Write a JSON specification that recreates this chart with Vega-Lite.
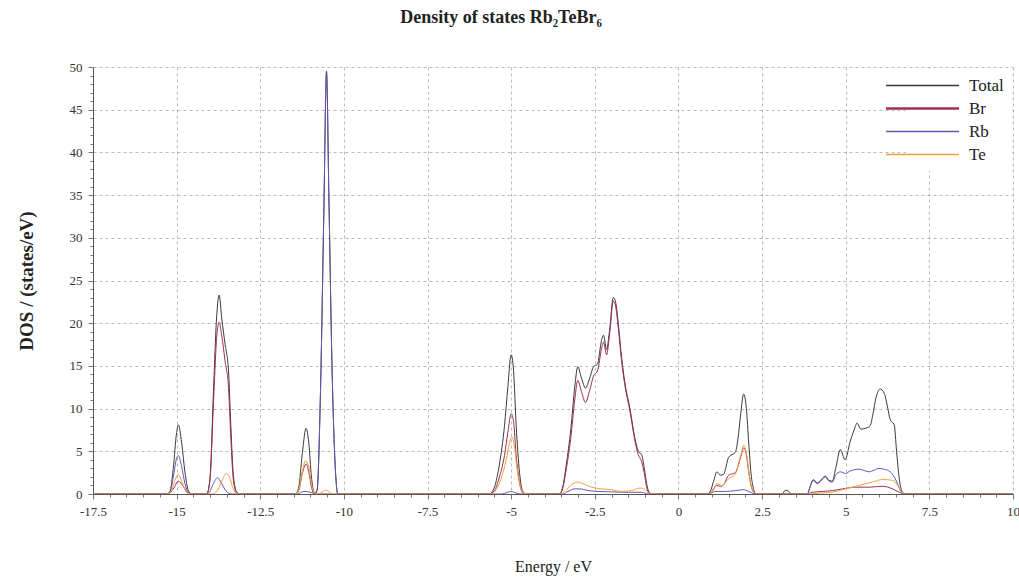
{
  "$schema": "https://vega.github.io/schema/vega-lite/v6.json",
  "autosize": "none",
  "width": 920,
  "height": 427,
  "padding": {"left": 93, "top": 67, "right": 6, "bottom": 84},
  "background": "white",
  "config": {"view": {"stroke": null}, "font": "Liberation Serif"},
  "title": {
    "text": "Density of states Rb₂TeBr₆",
    "font": "Liberation Serif",
    "fontSize": 18,
    "fontWeight": "bold",
    "color": "#222",
    "anchor": "middle",
    "frame": "group",
    "dx": -52,
    "offset": 34
  },
  "data": {
    "values": [
      {"E": -17.5, "s": "Total", "v": 0}, {"E": -15.3, "s": "Total", "v": 0}, {"E": -15.2, "s": "Total", "v": 0.3}, {"E": -15.1, "s": "Total", "v": 3.0}, {"E": -15.0, "s": "Total", "v": 7.2}, {"E": -14.95, "s": "Total", "v": 8.1}, {"E": -14.85, "s": "Total", "v": 6.0}, {"E": -14.75, "s": "Total", "v": 2.5}, {"E": -14.65, "s": "Total", "v": 0.4}, {"E": -14.55, "s": "Total", "v": 0},
      {"E": -14.1, "s": "Total", "v": 0}, {"E": -14.0, "s": "Total", "v": 2.0}, {"E": -13.9, "s": "Total", "v": 12.0}, {"E": -13.8, "s": "Total", "v": 21.0}, {"E": -13.73, "s": "Total", "v": 23.3}, {"E": -13.65, "s": "Total", "v": 20.5}, {"E": -13.55, "s": "Total", "v": 17.5}, {"E": -13.45, "s": "Total", "v": 14.5}, {"E": -13.38, "s": "Total", "v": 8.0}, {"E": -13.3, "s": "Total", "v": 2.0}, {"E": -13.2, "s": "Total", "v": 0.2}, {"E": -13.1, "s": "Total", "v": 0},
      {"E": -11.45, "s": "Total", "v": 0}, {"E": -11.35, "s": "Total", "v": 0.8}, {"E": -11.25, "s": "Total", "v": 4.5}, {"E": -11.13, "s": "Total", "v": 7.7}, {"E": -11.05, "s": "Total", "v": 6.0}, {"E": -10.97, "s": "Total", "v": 2.0}, {"E": -10.9, "s": "Total", "v": 0.3}, {"E": -10.85, "s": "Total", "v": 0.1}, {"E": -10.8, "s": "Total", "v": 0.5}, {"E": -10.7, "s": "Total", "v": 12}, {"E": -10.6, "s": "Total", "v": 33}, {"E": -10.52, "s": "Total", "v": 49.5}, {"E": -10.45, "s": "Total", "v": 35}, {"E": -10.35, "s": "Total", "v": 14}, {"E": -10.25, "s": "Total", "v": 2.5}, {"E": -10.18, "s": "Total", "v": 0},
      {"E": -5.65, "s": "Total", "v": 0}, {"E": -5.5, "s": "Total", "v": 0.8}, {"E": -5.35, "s": "Total", "v": 3.5}, {"E": -5.2, "s": "Total", "v": 8.0}, {"E": -5.1, "s": "Total", "v": 12.5}, {"E": -5.0, "s": "Total", "v": 16.3}, {"E": -4.93, "s": "Total", "v": 14.5}, {"E": -4.85, "s": "Total", "v": 8.0}, {"E": -4.75, "s": "Total", "v": 2.5}, {"E": -4.65, "s": "Total", "v": 0.3}, {"E": -4.55, "s": "Total", "v": 0},
      {"E": -3.55, "s": "Total", "v": 0}, {"E": -3.45, "s": "Total", "v": 1.0}, {"E": -3.35, "s": "Total", "v": 3.5}, {"E": -3.22, "s": "Total", "v": 7.5}, {"E": -3.1, "s": "Total", "v": 12.5}, {"E": -3.01, "s": "Total", "v": 14.9}, {"E": -2.9, "s": "Total", "v": 13.6}, {"E": -2.78, "s": "Total", "v": 12.4}, {"E": -2.65, "s": "Total", "v": 13.6}, {"E": -2.54, "s": "Total", "v": 14.9}, {"E": -2.42, "s": "Total", "v": 15.2}, {"E": -2.3, "s": "Total", "v": 18.0}, {"E": -2.24, "s": "Total", "v": 18.6}, {"E": -2.15, "s": "Total", "v": 16.9}, {"E": -2.05, "s": "Total", "v": 19.5}, {"E": -1.95, "s": "Total", "v": 23.0}, {"E": -1.88, "s": "Total", "v": 22.5}, {"E": -1.8, "s": "Total", "v": 20.0}, {"E": -1.7, "s": "Total", "v": 16.0}, {"E": -1.6, "s": "Total", "v": 13.0}, {"E": -1.45, "s": "Total", "v": 10.0}, {"E": -1.3, "s": "Total", "v": 6.5}, {"E": -1.2, "s": "Total", "v": 5.0}, {"E": -1.1, "s": "Total", "v": 4.6}, {"E": -1.02, "s": "Total", "v": 3.0}, {"E": -0.95, "s": "Total", "v": 1.2}, {"E": -0.88, "s": "Total", "v": 0.2}, {"E": -0.8, "s": "Total", "v": 0},
      {"E": 0.85, "s": "Total", "v": 0}, {"E": 0.95, "s": "Total", "v": 0.3}, {"E": 1.05, "s": "Total", "v": 1.5}, {"E": 1.15, "s": "Total", "v": 2.6}, {"E": 1.25, "s": "Total", "v": 2.2}, {"E": 1.35, "s": "Total", "v": 2.3}, {"E": 1.5, "s": "Total", "v": 4.3}, {"E": 1.7, "s": "Total", "v": 4.9}, {"E": 1.78, "s": "Total", "v": 6.5}, {"E": 1.85, "s": "Total", "v": 9.0}, {"E": 1.95, "s": "Total", "v": 11.7}, {"E": 2.03, "s": "Total", "v": 10.0}, {"E": 2.1, "s": "Total", "v": 6.0}, {"E": 2.17, "s": "Total", "v": 2.4}, {"E": 2.25, "s": "Total", "v": 0.5}, {"E": 2.32, "s": "Total", "v": 0},
      {"E": 3.1, "s": "Total", "v": 0}, {"E": 3.2, "s": "Total", "v": 0.45}, {"E": 3.3, "s": "Total", "v": 0.3}, {"E": 3.38, "s": "Total", "v": 0},
      {"E": 3.85, "s": "Total", "v": 0}, {"E": 3.95, "s": "Total", "v": 1.0}, {"E": 4.03, "s": "Total", "v": 1.7}, {"E": 4.15, "s": "Total", "v": 1.3}, {"E": 4.25, "s": "Total", "v": 1.6}, {"E": 4.39, "s": "Total", "v": 2.1}, {"E": 4.5, "s": "Total", "v": 1.6}, {"E": 4.6, "s": "Total", "v": 1.5}, {"E": 4.7, "s": "Total", "v": 3.0}, {"E": 4.84, "s": "Total", "v": 5.2}, {"E": 4.98, "s": "Total", "v": 4.0}, {"E": 5.13, "s": "Total", "v": 6.1}, {"E": 5.25, "s": "Total", "v": 7.5}, {"E": 5.34, "s": "Total", "v": 8.3}, {"E": 5.45, "s": "Total", "v": 7.6}, {"E": 5.6, "s": "Total", "v": 7.7}, {"E": 5.73, "s": "Total", "v": 8.0}, {"E": 5.82, "s": "Total", "v": 9.5}, {"E": 5.9, "s": "Total", "v": 11.2}, {"E": 6.03, "s": "Total", "v": 12.3}, {"E": 6.15, "s": "Total", "v": 11.8}, {"E": 6.25, "s": "Total", "v": 10.2}, {"E": 6.33, "s": "Total", "v": 8.7}, {"E": 6.45, "s": "Total", "v": 8.1}, {"E": 6.52, "s": "Total", "v": 5.0}, {"E": 6.6, "s": "Total", "v": 1.8}, {"E": 6.7, "s": "Total", "v": 0.2}, {"E": 6.8, "s": "Total", "v": 0}, {"E": 10, "s": "Total", "v": 0},

      {"E": -17.5, "s": "Br", "v": 0}, {"E": -15.25, "s": "Br", "v": 0}, {"E": -15.1, "s": "Br", "v": 0.6}, {"E": -14.95, "s": "Br", "v": 1.5}, {"E": -14.8, "s": "Br", "v": 0.9}, {"E": -14.65, "s": "Br", "v": 0.1}, {"E": -14.55, "s": "Br", "v": 0},
      {"E": -14.1, "s": "Br", "v": 0}, {"E": -14.0, "s": "Br", "v": 1.8}, {"E": -13.9, "s": "Br", "v": 10.5}, {"E": -13.8, "s": "Br", "v": 18.5}, {"E": -13.73, "s": "Br", "v": 20.1}, {"E": -13.65, "s": "Br", "v": 18.5}, {"E": -13.55, "s": "Br", "v": 15.5}, {"E": -13.45, "s": "Br", "v": 12.5}, {"E": -13.38, "s": "Br", "v": 6.5}, {"E": -13.3, "s": "Br", "v": 1.5}, {"E": -13.2, "s": "Br", "v": 0.1}, {"E": -13.1, "s": "Br", "v": 0},
      {"E": -11.45, "s": "Br", "v": 0}, {"E": -11.35, "s": "Br", "v": 0.4}, {"E": -11.25, "s": "Br", "v": 2.3}, {"E": -11.13, "s": "Br", "v": 3.5}, {"E": -11.05, "s": "Br", "v": 2.6}, {"E": -10.97, "s": "Br", "v": 0.8}, {"E": -10.88, "s": "Br", "v": 0},
      {"E": -5.65, "s": "Br", "v": 0}, {"E": -5.5, "s": "Br", "v": 0.4}, {"E": -5.35, "s": "Br", "v": 2.0}, {"E": -5.2, "s": "Br", "v": 4.5}, {"E": -5.1, "s": "Br", "v": 7.2}, {"E": -5.0, "s": "Br", "v": 9.4}, {"E": -4.93, "s": "Br", "v": 8.5}, {"E": -4.85, "s": "Br", "v": 4.5}, {"E": -4.75, "s": "Br", "v": 1.3}, {"E": -4.65, "s": "Br", "v": 0.1}, {"E": -4.55, "s": "Br", "v": 0},
      {"E": -3.55, "s": "Br", "v": 0}, {"E": -3.45, "s": "Br", "v": 0.8}, {"E": -3.35, "s": "Br", "v": 3.0}, {"E": -3.22, "s": "Br", "v": 6.5}, {"E": -3.1, "s": "Br", "v": 11.0}, {"E": -3.01, "s": "Br", "v": 13.3}, {"E": -2.9, "s": "Br", "v": 12.0}, {"E": -2.78, "s": "Br", "v": 10.7}, {"E": -2.65, "s": "Br", "v": 12.2}, {"E": -2.54, "s": "Br", "v": 13.8}, {"E": -2.42, "s": "Br", "v": 14.4}, {"E": -2.3, "s": "Br", "v": 17.0}, {"E": -2.24, "s": "Br", "v": 17.8}, {"E": -2.15, "s": "Br", "v": 16.3}, {"E": -2.05, "s": "Br", "v": 19.0}, {"E": -1.95, "s": "Br", "v": 22.6}, {"E": -1.88, "s": "Br", "v": 22.0}, {"E": -1.8, "s": "Br", "v": 19.5}, {"E": -1.7, "s": "Br", "v": 15.6}, {"E": -1.6, "s": "Br", "v": 12.7}, {"E": -1.45, "s": "Br", "v": 9.7}, {"E": -1.3, "s": "Br", "v": 6.2}, {"E": -1.2, "s": "Br", "v": 4.6}, {"E": -1.1, "s": "Br", "v": 3.8}, {"E": -1.02, "s": "Br", "v": 2.4}, {"E": -0.95, "s": "Br", "v": 0.8}, {"E": -0.88, "s": "Br", "v": 0.1}, {"E": -0.8, "s": "Br", "v": 0},
      {"E": 0.85, "s": "Br", "v": 0}, {"E": 0.95, "s": "Br", "v": 0.1}, {"E": 1.05, "s": "Br", "v": 0.6}, {"E": 1.15, "s": "Br", "v": 1.0}, {"E": 1.25, "s": "Br", "v": 0.9}, {"E": 1.35, "s": "Br", "v": 1.1}, {"E": 1.5, "s": "Br", "v": 2.2}, {"E": 1.7, "s": "Br", "v": 2.5}, {"E": 1.8, "s": "Br", "v": 3.5}, {"E": 1.88, "s": "Br", "v": 4.6}, {"E": 1.95, "s": "Br", "v": 5.4}, {"E": 2.03, "s": "Br", "v": 4.6}, {"E": 2.1, "s": "Br", "v": 2.6}, {"E": 2.17, "s": "Br", "v": 1.0}, {"E": 2.25, "s": "Br", "v": 0.2}, {"E": 2.32, "s": "Br", "v": 0},
      {"E": 3.85, "s": "Br", "v": 0}, {"E": 4.0, "s": "Br", "v": 0.2}, {"E": 4.3, "s": "Br", "v": 0.3}, {"E": 4.6, "s": "Br", "v": 0.4}, {"E": 4.9, "s": "Br", "v": 0.6}, {"E": 5.3, "s": "Br", "v": 0.8}, {"E": 5.7, "s": "Br", "v": 0.8}, {"E": 6.1, "s": "Br", "v": 0.9}, {"E": 6.4, "s": "Br", "v": 0.6}, {"E": 6.6, "s": "Br", "v": 0.2}, {"E": 6.75, "s": "Br", "v": 0}, {"E": 10, "s": "Br", "v": 0},

      {"E": -17.5, "s": "Rb", "v": 0}, {"E": -15.3, "s": "Rb", "v": 0}, {"E": -15.2, "s": "Rb", "v": 0.2}, {"E": -15.1, "s": "Rb", "v": 2.0}, {"E": -15.0, "s": "Rb", "v": 4.2}, {"E": -14.95, "s": "Rb", "v": 4.5}, {"E": -14.85, "s": "Rb", "v": 3.2}, {"E": -14.75, "s": "Rb", "v": 1.2}, {"E": -14.65, "s": "Rb", "v": 0.2}, {"E": -14.55, "s": "Rb", "v": 0},
      {"E": -14.05, "s": "Rb", "v": 0}, {"E": -13.95, "s": "Rb", "v": 0.8}, {"E": -13.85, "s": "Rb", "v": 1.6}, {"E": -13.78, "s": "Rb", "v": 1.9}, {"E": -13.68, "s": "Rb", "v": 1.4}, {"E": -13.55, "s": "Rb", "v": 0.5}, {"E": -13.45, "s": "Rb", "v": 0.1}, {"E": -13.35, "s": "Rb", "v": 0},
      {"E": -11.4, "s": "Rb", "v": 0}, {"E": -11.2, "s": "Rb", "v": 0.3}, {"E": -11.05, "s": "Rb", "v": 0.25}, {"E": -10.9, "s": "Rb", "v": 0.1}, {"E": -10.85, "s": "Rb", "v": 0.1}, {"E": -10.8, "s": "Rb", "v": 0.5}, {"E": -10.7, "s": "Rb", "v": 12}, {"E": -10.6, "s": "Rb", "v": 33}, {"E": -10.52, "s": "Rb", "v": 49.3}, {"E": -10.45, "s": "Rb", "v": 35}, {"E": -10.35, "s": "Rb", "v": 14}, {"E": -10.25, "s": "Rb", "v": 2.5}, {"E": -10.18, "s": "Rb", "v": 0},
      {"E": -5.3, "s": "Rb", "v": 0}, {"E": -5.1, "s": "Rb", "v": 0.2}, {"E": -5.0, "s": "Rb", "v": 0.3}, {"E": -4.85, "s": "Rb", "v": 0.1}, {"E": -4.7, "s": "Rb", "v": 0},
      {"E": -3.45, "s": "Rb", "v": 0}, {"E": -3.3, "s": "Rb", "v": 0.3}, {"E": -3.1, "s": "Rb", "v": 0.6}, {"E": -2.95, "s": "Rb", "v": 0.6}, {"E": -2.7, "s": "Rb", "v": 0.4}, {"E": -2.4, "s": "Rb", "v": 0.3}, {"E": -2.0, "s": "Rb", "v": 0.25}, {"E": -1.5, "s": "Rb", "v": 0.2}, {"E": -1.1, "s": "Rb", "v": 0.2}, {"E": -0.9, "s": "Rb", "v": 0},
      {"E": 0.9, "s": "Rb", "v": 0}, {"E": 1.1, "s": "Rb", "v": 0.3}, {"E": 1.4, "s": "Rb", "v": 0.3}, {"E": 1.7, "s": "Rb", "v": 0.4}, {"E": 1.95, "s": "Rb", "v": 0.5}, {"E": 2.15, "s": "Rb", "v": 0.2}, {"E": 2.3, "s": "Rb", "v": 0},
      {"E": 3.85, "s": "Rb", "v": 0}, {"E": 3.95, "s": "Rb", "v": 1.0}, {"E": 4.03, "s": "Rb", "v": 1.6}, {"E": 4.15, "s": "Rb", "v": 1.2}, {"E": 4.25, "s": "Rb", "v": 1.5}, {"E": 4.39, "s": "Rb", "v": 2.0}, {"E": 4.5, "s": "Rb", "v": 1.5}, {"E": 4.6, "s": "Rb", "v": 1.4}, {"E": 4.7, "s": "Rb", "v": 2.2}, {"E": 4.84, "s": "Rb", "v": 2.6}, {"E": 5.0, "s": "Rb", "v": 2.4}, {"E": 5.13, "s": "Rb", "v": 2.7}, {"E": 5.4, "s": "Rb", "v": 2.9}, {"E": 5.7, "s": "Rb", "v": 2.6}, {"E": 5.85, "s": "Rb", "v": 2.8}, {"E": 6.0, "s": "Rb", "v": 3.0}, {"E": 6.15, "s": "Rb", "v": 2.9}, {"E": 6.33, "s": "Rb", "v": 2.6}, {"E": 6.45, "s": "Rb", "v": 2.0}, {"E": 6.55, "s": "Rb", "v": 1.2}, {"E": 6.65, "s": "Rb", "v": 0.3}, {"E": 6.75, "s": "Rb", "v": 0}, {"E": 10, "s": "Rb", "v": 0},

      {"E": -17.5, "s": "Te", "v": 0}, {"E": -15.3, "s": "Te", "v": 0}, {"E": -15.15, "s": "Te", "v": 0.4}, {"E": -15.05, "s": "Te", "v": 1.6}, {"E": -14.95, "s": "Te", "v": 2.3}, {"E": -14.85, "s": "Te", "v": 1.5}, {"E": -14.75, "s": "Te", "v": 0.5}, {"E": -14.65, "s": "Te", "v": 0.05}, {"E": -14.55, "s": "Te", "v": 0},
      {"E": -13.95, "s": "Te", "v": 0}, {"E": -13.8, "s": "Te", "v": 0.3}, {"E": -13.65, "s": "Te", "v": 1.5}, {"E": -13.52, "s": "Te", "v": 2.4}, {"E": -13.42, "s": "Te", "v": 2.0}, {"E": -13.33, "s": "Te", "v": 0.8}, {"E": -13.22, "s": "Te", "v": 0.1}, {"E": -13.15, "s": "Te", "v": 0},
      {"E": -11.45, "s": "Te", "v": 0}, {"E": -11.35, "s": "Te", "v": 0.5}, {"E": -11.25, "s": "Te", "v": 2.5}, {"E": -11.15, "s": "Te", "v": 3.9}, {"E": -11.05, "s": "Te", "v": 3.2}, {"E": -10.97, "s": "Te", "v": 1.2}, {"E": -10.88, "s": "Te", "v": 0.1}, {"E": -10.8, "s": "Te", "v": 0}, {"E": -10.65, "s": "Te", "v": 0.2}, {"E": -10.55, "s": "Te", "v": 0.45}, {"E": -10.45, "s": "Te", "v": 0.3}, {"E": -10.35, "s": "Te", "v": 0},
      {"E": -5.6, "s": "Te", "v": 0}, {"E": -5.45, "s": "Te", "v": 0.5}, {"E": -5.3, "s": "Te", "v": 1.8}, {"E": -5.15, "s": "Te", "v": 4.0}, {"E": -5.05, "s": "Te", "v": 6.0}, {"E": -4.98, "s": "Te", "v": 6.7}, {"E": -4.9, "s": "Te", "v": 5.5}, {"E": -4.82, "s": "Te", "v": 2.8}, {"E": -4.72, "s": "Te", "v": 0.8}, {"E": -4.62, "s": "Te", "v": 0.1}, {"E": -4.55, "s": "Te", "v": 0},
      {"E": -3.5, "s": "Te", "v": 0}, {"E": -3.35, "s": "Te", "v": 0.5}, {"E": -3.15, "s": "Te", "v": 1.2}, {"E": -3.01, "s": "Te", "v": 1.4}, {"E": -2.85, "s": "Te", "v": 1.2}, {"E": -2.6, "s": "Te", "v": 0.8}, {"E": -2.3, "s": "Te", "v": 0.6}, {"E": -2.0, "s": "Te", "v": 0.5}, {"E": -1.7, "s": "Te", "v": 0.3}, {"E": -1.4, "s": "Te", "v": 0.4}, {"E": -1.15, "s": "Te", "v": 0.7}, {"E": -1.0, "s": "Te", "v": 0.5}, {"E": -0.9, "s": "Te", "v": 0.1}, {"E": -0.85, "s": "Te", "v": 0},
      {"E": 0.9, "s": "Te", "v": 0}, {"E": 1.05, "s": "Te", "v": 0.5}, {"E": 1.15, "s": "Te", "v": 1.2}, {"E": 1.3, "s": "Te", "v": 1.0}, {"E": 1.5, "s": "Te", "v": 1.8}, {"E": 1.7, "s": "Te", "v": 2.3}, {"E": 1.8, "s": "Te", "v": 3.6}, {"E": 1.88, "s": "Te", "v": 4.8}, {"E": 1.95, "s": "Te", "v": 5.7}, {"E": 2.03, "s": "Te", "v": 4.8}, {"E": 2.1, "s": "Te", "v": 2.8}, {"E": 2.17, "s": "Te", "v": 1.0}, {"E": 2.25, "s": "Te", "v": 0.2}, {"E": 2.32, "s": "Te", "v": 0},
      {"E": 3.9, "s": "Te", "v": 0}, {"E": 4.2, "s": "Te", "v": 0.1}, {"E": 4.6, "s": "Te", "v": 0.2}, {"E": 4.9, "s": "Te", "v": 0.5}, {"E": 5.2, "s": "Te", "v": 0.8}, {"E": 5.4, "s": "Te", "v": 1.0}, {"E": 5.6, "s": "Te", "v": 1.2}, {"E": 5.8, "s": "Te", "v": 1.4}, {"E": 6.1, "s": "Te", "v": 1.7}, {"E": 6.4, "s": "Te", "v": 1.6}, {"E": 6.55, "s": "Te", "v": 1.0}, {"E": 6.65, "s": "Te", "v": 0.3}, {"E": 6.75, "s": "Te", "v": 0}, {"E": 10, "s": "Te", "v": 0}
    ]
  },
  "mark": {"type": "line", "strokeWidth": 1, "interpolate": "monotone", "clip": true},
  "encoding": {
    "x": {
      "field": "E",
      "type": "quantitative",
      "scale": {"domain": [-17.5, 10], "nice": false, "zero": false},
      "axis": {
        "title": "Energy / eV",
        "titleFont": "Liberation Serif",
        "titleFontSize": 16,
        "titleFontWeight": "normal",
        "titleColor": "#222",
        "titlePadding": 40,
        "values": [-17.5, -17, -16.5, -16, -15.5, -15, -14.5, -14, -13.5, -13, -12.5, -12, -11.5, -11, -10.5, -10, -9.5, -9, -8.5, -8, -7.5, -7, -6.5, -6, -5.5, -5, -4.5, -4, -3.5, -3, -2.5, -2, -1.5, -1, -0.5, 0, 0.5, 1, 1.5, 2, 2.5, 3, 3.5, 4, 4.5, 5, 5.5, 6, 6.5, 7, 7.5, 8, 8.5, 9, 9.5, 10],
        "labelExpr": "(datum.value % 2.5 === 0) ? ('' + datum.value) : ''",
        "labelFont": "Liberation Serif",
        "labelFontSize": 13,
        "labelColor": "#333",
        "labelPadding": 6,
        "labelOverlap": false,
        "labelBound": false,
        "labelFlush": false,
        "domainColor": "#555",
        "tickColor": "#777",
        "tickSize": {"condition": {"test": "datum.value % 2.5 === 0", "value": 5}, "value": 3},
        "grid": true,
        "gridColor": "#aaa",
        "gridDash": [3, 3],
        "gridOpacity": {"condition": {"test": "datum.value % 2.5 === 0 && datum.value > -17.5", "value": 0.8}, "value": 0}
      }
    },
    "y": {
      "field": "v",
      "type": "quantitative",
      "scale": {"domain": [0, 50], "nice": false},
      "axis": {
        "title": "DOS / (states/eV)",
        "titleFont": "Liberation Serif",
        "titleFontSize": 19,
        "titleFontWeight": "bold",
        "titleColor": "#222",
        "titlePadding": 33,
        "values": [0, 1, 2, 3, 4, 5, 6, 7, 8, 9, 10, 11, 12, 13, 14, 15, 16, 17, 18, 19, 20, 21, 22, 23, 24, 25, 26, 27, 28, 29, 30, 31, 32, 33, 34, 35, 36, 37, 38, 39, 40, 41, 42, 43, 44, 45, 46, 47, 48, 49, 50],
        "labelExpr": "(datum.value % 5 === 0) ? ('' + datum.value) : ''",
        "labelFont": "Liberation Serif",
        "labelFontSize": 13,
        "labelColor": "#333",
        "labelPadding": 6,
        "labelOverlap": false,
        "labelBound": false,
        "labelFlush": false,
        "domainColor": "#555",
        "tickColor": "#777",
        "tickSize": {"condition": {"test": "datum.value % 5 === 0", "value": 5}, "value": 3},
        "grid": true,
        "gridColor": "#aaa",
        "gridDash": [3, 3],
        "gridOpacity": {"condition": {"test": "datum.value % 5 === 0 && datum.value > 0", "value": 0.8}, "value": 0}
      }
    },
    "color": {
      "field": "s",
      "type": "nominal",
      "scale": {"domain": ["Total", "Br", "Rb", "Te"], "range": ["#3a3a3a", "#a0304c", "#6a52b2", "#f0a040"]},
      "legend": {
        "title": null,
        "orient": "none",
        "legendX": 813,
        "legendY": 2,
        "fillColor": "white",
        "padding": 8,
        "symbolType": "stroke",
        "symbolSize": 5329,
        "symbolStrokeWidth": 1.3,
        "labelOffset": 38,
        "rowPadding": 5,
        "labelFont": "Liberation Serif",
        "labelFontSize": 17,
        "labelColor": "#222",
        "encode": {"symbols": {"update": {"strokeWidth": {"signal": "datum.value === 'Br' ? 2.5 : 1.3"}}}}
      }
    },
    "order": {"field": "s"}
  }
}
